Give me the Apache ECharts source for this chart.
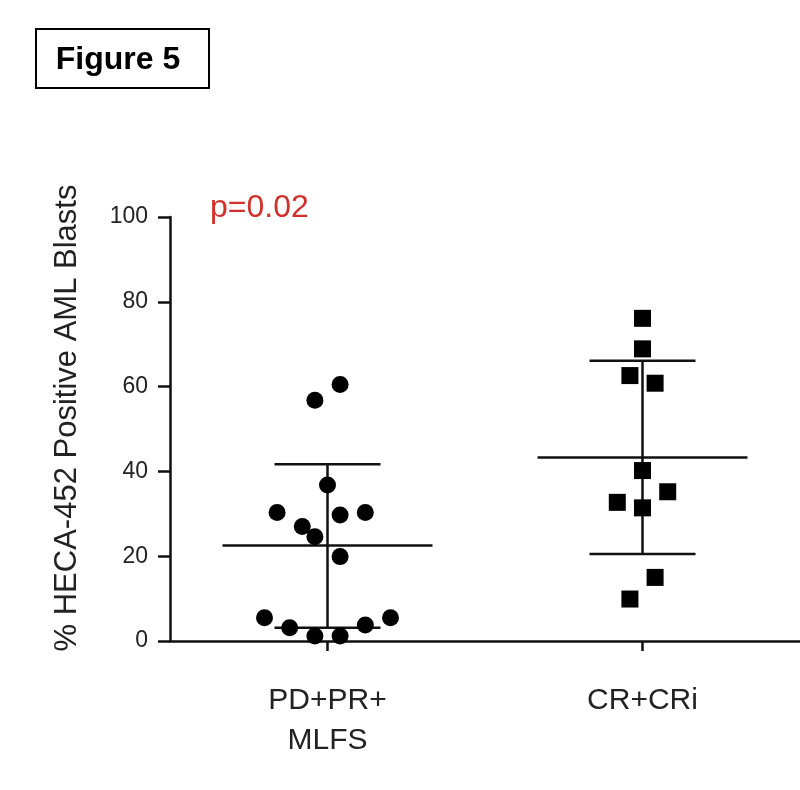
<!DOCTYPE html>
<html>
<head>
  <meta charset="utf-8">
  <script src="https://cdn.jsdelivr.net/npm/echarts@6.0.0/dist/echarts.min.js"></script>
  <style>
    html, body { margin: 0; padding: 0; background: #fff; }
    #chart { width: 800px; height: 790px; }
  </style>
</head>
<body>
  <div id="chart"></div>
  <script>
    // groups on the x axis
    var categories = ['PD+PR+\nMLFS', 'CR+CRi'];

    // % HECA-452 positive blasts
    var pdValues  = [56.8, 60.5, 36.8, 30.3, 29.7, 30.3, 27.0, 24.6, 19.9, 5.5, 3.1, 1.2, 1.2, 3.8, 5.5];
    var pdJitter  = [-0.04, 0.04, 0, -0.16, 0.04, 0.12, -0.08, -0.04, 0.04, -0.2, -0.12, -0.04, 0.04, 0.12, 0.2];
    var crValues  = [76.1, 68.9, 62.6, 60.8, 40.2, 35.2, 32.7, 31.4, 15.0, 9.9];
    var crJitter  = [0, 0, -0.04, 0.04, 0, 0.08, -0.08, 0, 0.04, -0.04];

    // mean and SD bars as drawn
    var means  = [22.5, 43.3];
    var sdLow  = [3.1, 20.5];
    var sdHigh = [41.7, 66.1];

    var pText = 'p=0.02';

    var chart = echarts.init(document.getElementById('chart'));

    var font = '"Liberation Sans", Arial, sans-serif';
    var ink = '#111';

    function points(values, jitter, group) {
      return values.map(function (v, i) { return [group + jitter[i], v]; });
    }

    var barData = means.map(function (m, i) { return [i, m, sdLow[i], sdHigh[i]]; });

    var option = {
      animation: false,
      grid: { left: 170, right: -3, top: 217, bottom: 149 },
      xAxis: [
        {
          type: 'category',
          data: categories,
          boundaryGap: true,
          axisLine: { lineStyle: { color: ink, width: 2.5 } },
          axisTick: { show: true, alignWithLabel: true, length: 10, lineStyle: { color: ink, width: 2.5 } },
          axisLabel: {
            color: '#222', fontFamily: font, fontSize: 30, lineHeight: 40, margin: 40
          },
          splitLine: { show: false }
        },
        {
          type: 'value',
          min: -0.5,
          max: 1.5,
          show: false
        }
      ],
      yAxis: {
        type: 'value',
        min: 0,
        max: 100,
        interval: 20,
        axisLine: { show: true, onZero: false, lineStyle: { color: ink, width: 2.5 } },
        axisTick: { show: true, length: 12, lineStyle: { color: ink, width: 2.5 } },
        axisLabel: { color: '#222', fontFamily: font, fontSize: 23, margin: 22 },
        splitLine: { show: false }
      },
      series: [
        {
          type: 'custom',
          xAxisIndex: 1,
          z: 1,
          data: barData,
          renderItem: function (params, api) {
            var x = api.value(0);
            var mid = api.coord([x, api.value(1)]);
            var lo = api.coord([x, api.value(2)]);
            var hi = api.coord([x, api.value(3)]);
            var st = { stroke: ink, lineWidth: 2.5 };
            return {
              type: 'group',
              children: [
                { type: 'line', shape: { x1: mid[0] - 105, y1: mid[1], x2: mid[0] + 105, y2: mid[1] }, style: st },
                { type: 'line', shape: { x1: lo[0], y1: lo[1], x2: hi[0], y2: hi[1] }, style: st },
                { type: 'line', shape: { x1: hi[0] - 53, y1: hi[1], x2: hi[0] + 53, y2: hi[1] }, style: st },
                { type: 'line', shape: { x1: lo[0] - 53, y1: lo[1], x2: lo[0] + 53, y2: lo[1] }, style: st }
              ]
            };
          }
        },
        {
          type: 'scatter',
          xAxisIndex: 1,
          z: 3,
          symbol: 'circle',
          symbolSize: 17,
          itemStyle: { color: '#000', opacity: 1 },
          data: points(pdValues, pdJitter, 0)
        },
        {
          type: 'scatter',
          xAxisIndex: 1,
          z: 3,
          symbol: 'rect',
          symbolSize: 17,
          itemStyle: { color: '#000', opacity: 1 },
          data: points(crValues, crJitter, 1)
        }
      ],
      graphic: [
        {
          type: 'rect',
          shape: { x: 36, y: 29, width: 173, height: 59 },
          style: { fill: '#fff', stroke: '#000', lineWidth: 2 }
        },
        {
          type: 'text',
          x: 118, y: 60,
          style: {
            text: 'Figure 5', fontFamily: font, fontWeight: 'bold', fontSize: 32,
            fill: '#000', align: 'center', verticalAlign: 'middle'
          }
        },
        {
          type: 'text',
          x: 67, y: 418,
          rotation: Math.PI / 2,
          style: {
            text: '% HECA-452 Positive AML Blasts', fontFamily: font, fontSize: 31,
            fill: '#222', align: 'center', verticalAlign: 'middle'
          }
        },
        {
          type: 'text',
          x: 210, y: 208,
          style: {
            text: pText, fontFamily: font, fontSize: 32,
            fill: '#d0312d', align: 'left', verticalAlign: 'middle'
          }
        }
      ]
    };

    chart.setOption(option);
  </script>
</body>
</html>
